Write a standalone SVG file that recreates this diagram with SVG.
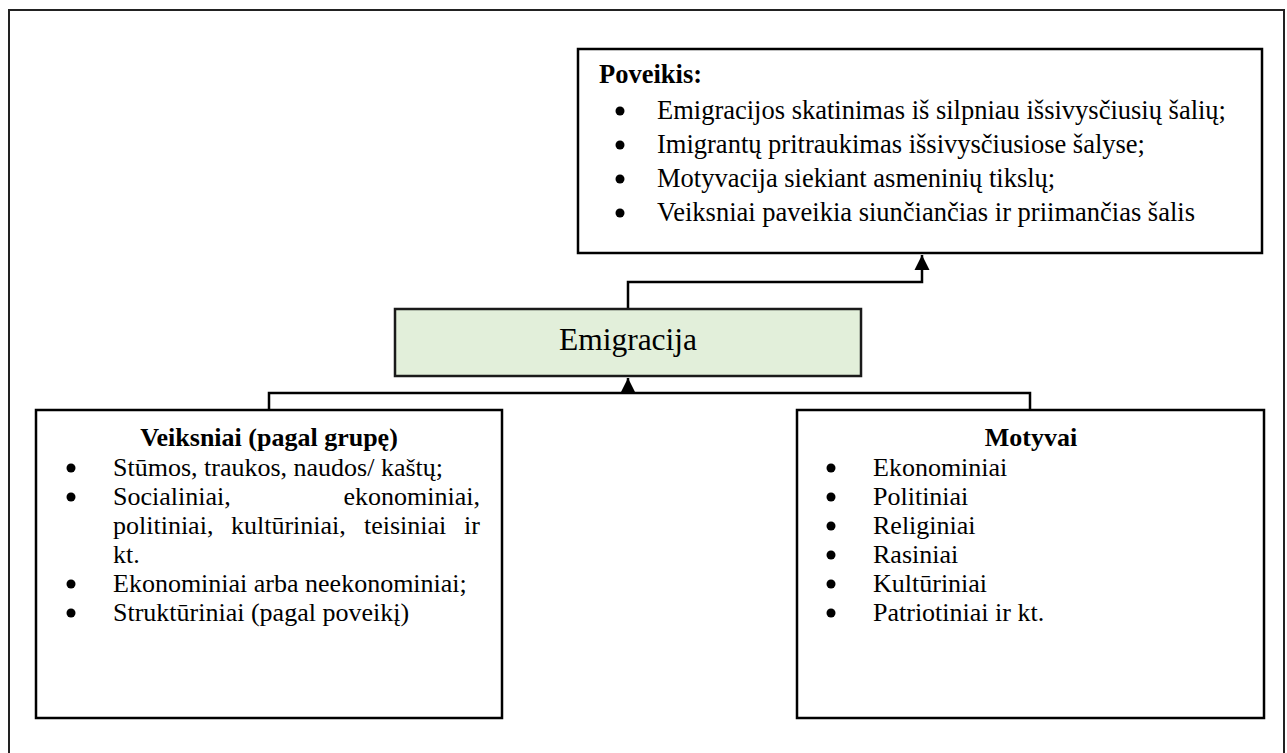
<svg xmlns="http://www.w3.org/2000/svg" width="1287" height="753" viewBox="0 0 1287 753">
<defs>
<marker id="arr" markerUnits="userSpaceOnUse" markerWidth="16" markerHeight="16" viewBox="0 0 16 16" refX="15" refY="8" orient="auto">
<path d="M0,0.5 L15,8 L0,15.5 Z" fill="#000"/>
</marker>
<style>
.box{fill:#fff;stroke:#000;stroke-width:2.5}
.green{fill:#e2efda;stroke:#1a1a1a;stroke-width:2.5}
.frame{fill:none;stroke:#222;stroke-width:2}
.conn{fill:none;stroke:#000;stroke-width:2.5}
.t{font-family:"Liberation Serif","Times New Roman",serif;font-size:26px;fill:#000}
.tt{font-size:26.5px}
.b{font-weight:bold}
.big{font-size:31.5px}
.dot{fill:#000}
</style>
</defs>
<rect width="1287" height="753" fill="#fff"/>
<rect class="frame" x="9" y="10" width="1275" height="760"/>

<g id="connectors">
<path class="conn" d="M628,309 V282 H922 V255" marker-end="url(#arr)"/>
<path class="conn" d="M269,410 V393 H1030 V410"/>
<path class="conn" d="M628,393 V378" marker-end="url(#arr)"/>
</g>

<g id="poveikis">
<rect class="box" x="578" y="49" width="684" height="204"/>
<text class="t tt b" x="599" y="83">Poveikis:</text>
<circle class="dot" cx="620" cy="111" r="4.5"/>
<circle class="dot" cx="620" cy="145" r="4.5"/>
<circle class="dot" cx="620" cy="179" r="4.5"/>
<circle class="dot" cx="620" cy="213" r="4.5"/>
<text class="t tt" x="657" y="119">Emigracijos skatinimas iš silpniau išsivysčiusių šalių;</text>
<text class="t tt" x="657" y="153">Imigrantų pritraukimas išsivysčiusiose šalyse;</text>
<text class="t tt" x="657" y="187">Motyvacija siekiant asmeninių tikslų;</text>
<text class="t tt" x="657" y="221">Veiksniai paveikia siunčiančias ir priimančias šalis</text>
</g>

<g id="emigracija">
<rect class="green" x="395" y="309" width="466" height="67"/>
<text class="t big" x="628" y="350" text-anchor="middle">Emigracija</text>
</g>

<g id="veiksniai">
<rect class="box" x="36" y="410" width="466" height="308"/>
<text class="t b" x="269" y="446" text-anchor="middle">Veiksniai (pagal grupę)</text>
<circle class="dot" cx="71" cy="468" r="4.5"/>
<circle class="dot" cx="71" cy="497" r="4.5"/>
<circle class="dot" cx="71" cy="584" r="4.5"/>
<circle class="dot" cx="71" cy="613" r="4.5"/>
<text class="t" x="113" y="476">Stūmos, traukos, naudos/ kaštų;</text>
<text class="t" x="113" y="505">Socialiniai,</text>
<text class="t" x="480" y="505" text-anchor="end">ekonominiai,</text>
<text class="t" x="113" y="534">politiniai,</text>
<text class="t" x="231" y="534">kultūriniai,</text>
<text class="t" x="364" y="534">teisiniai</text>
<text class="t" x="480" y="534" text-anchor="end">ir</text>
<text class="t" x="113" y="563">kt.</text>
<text class="t" x="113" y="592">Ekonominiai arba neekonominiai;</text>
<text class="t" x="113" y="621">Struktūriniai (pagal poveikį)</text>
</g>

<g id="motyvai">
<rect class="box" x="797" y="410" width="467" height="308"/>
<text class="t b" x="1031" y="446" text-anchor="middle">Motyvai</text>
<circle class="dot" cx="831" cy="468" r="4.5"/>
<circle class="dot" cx="831" cy="497" r="4.5"/>
<circle class="dot" cx="831" cy="526" r="4.5"/>
<circle class="dot" cx="831" cy="555" r="4.5"/>
<circle class="dot" cx="831" cy="584" r="4.5"/>
<circle class="dot" cx="831" cy="613" r="4.5"/>
<text class="t" x="873" y="476">Ekonominiai</text>
<text class="t" x="873" y="505">Politiniai</text>
<text class="t" x="873" y="534">Religiniai</text>
<text class="t" x="873" y="563">Rasiniai</text>
<text class="t" x="873" y="592">Kultūriniai</text>
<text class="t" x="873" y="621">Patriotiniai ir kt.</text>
</g>
</svg>
